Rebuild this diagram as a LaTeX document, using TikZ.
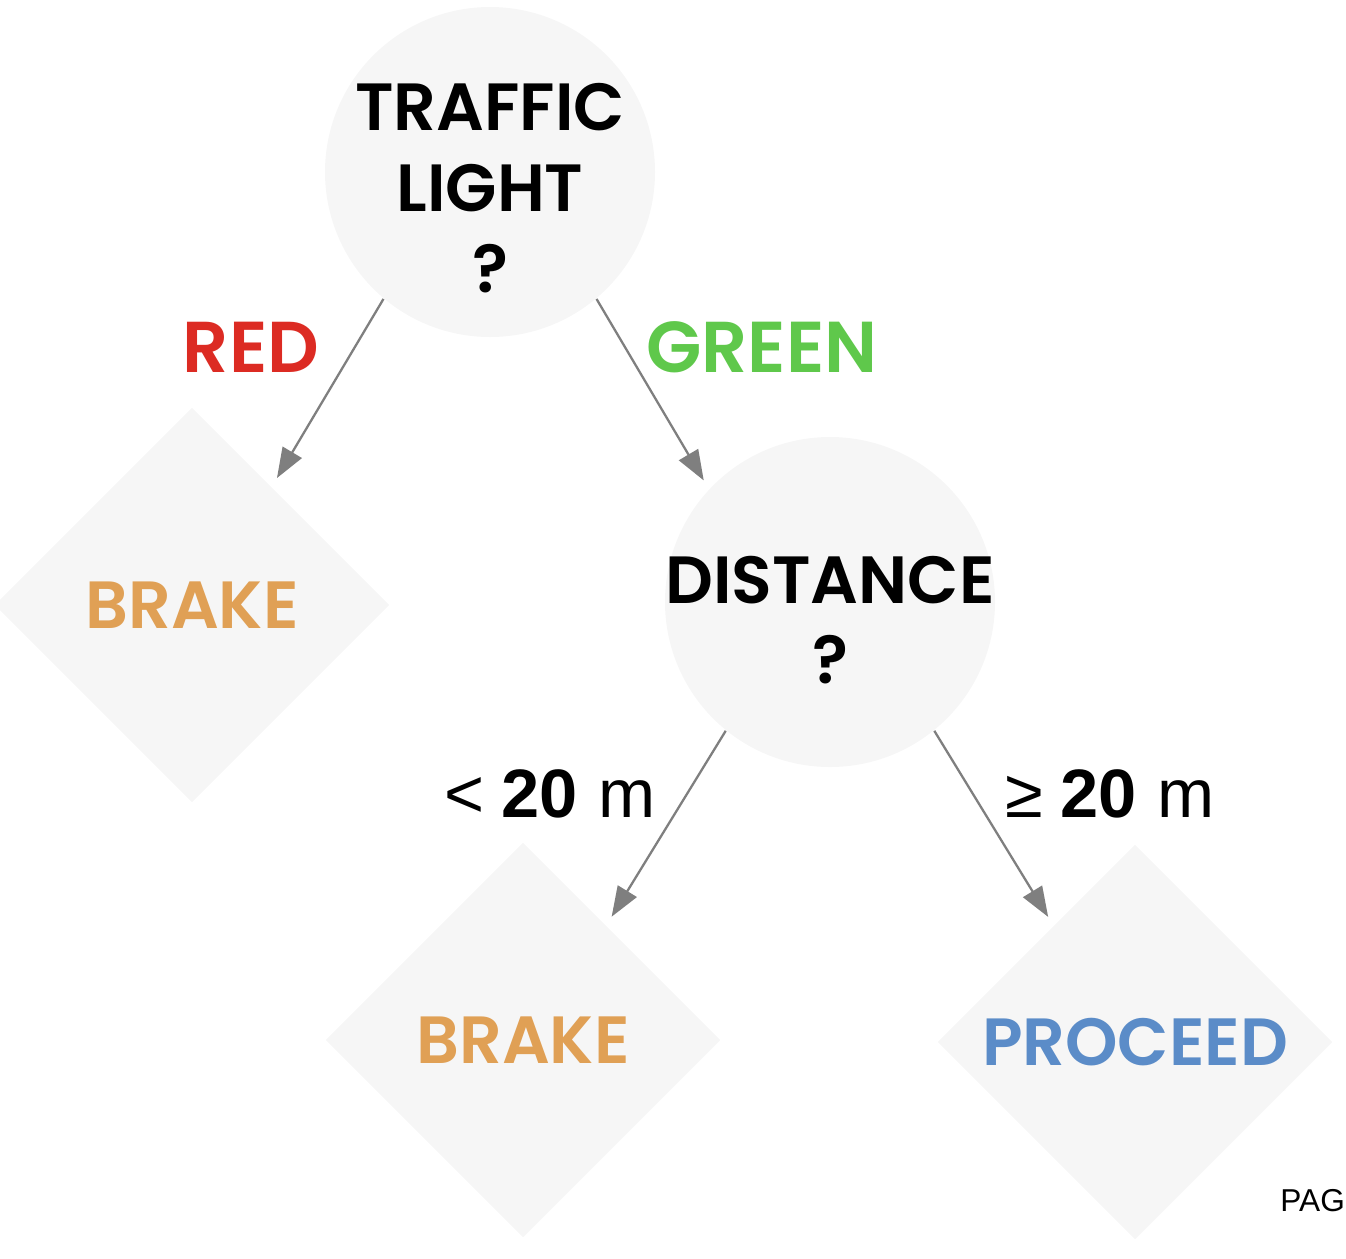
\documentclass[tikz,border=0pt]{standalone}
\usepackage{fontspec}
\setmainfont{Poppins}[BoldFont={* SemiBold}]
\newfontfamily\arialfont{Liberation Sans}
\usetikzlibrary{shapes.geometric,arrows.meta}
\definecolor{nodefill}{HTML}{F6F6F6}
\definecolor{redlbl}{HTML}{DC2B23}
\definecolor{greenlbl}{HTML}{5FC84B}
\definecolor{brakelbl}{HTML}{E0A055}
\definecolor{golbl}{HTML}{5B8CC8}
\definecolor{arrgray}{HTML}{7F7F7F}

\begin{document}
\begin{tikzpicture}[
	question/.style={circle,fill=nodefill,minimum size=3.3cm,inner sep=0pt},
	leaf/.style={diamond,fill=nodefill,minimum size=3.95cm,inner sep=0pt,font=\fontsize{19}{23}\selectfont\bfseries},
	qtext/.style={align=center,font=\fontsize{19}{23}\selectfont\bfseries},
	branch/.style={font=\fontsize{20.5}{24}\selectfont\bfseries},
	cond/.style={anchor=base,font=\arialfont\fontsize{19.5}{24}\selectfont},
	arr/.style={draw=arrgray,line width=0.65pt,-{Triangle[length=3mm,width=2.2mm]},shorten >=1mm}
]
	\useasboundingbox (0,0) rectangle (13.46,-12.58);
	\node[question] (tl) at (4.90,-1.72) {};
	\node[question] (dist) at (8.30,-6.02) {};
	\node[leaf,text=brakelbl] (brk1) at (1.92,-6.05) {BRAKE};
	\node[leaf,text=brakelbl] (brk2) at (5.23,-10.40) {BRAKE};
	\node[leaf,text=golbl] (go) at (11.35,-10.42) {PROCEED};
	\node[qtext] (tltxt) at ([yshift=-0.16cm]tl.center) {TRAFFIC\\LIGHT\\?};
	\node[qtext] (disttxt) at ([yshift=-0.18cm]dist.center) {DISTANCE\\?};
	\draw[arr] (tl.230) -- (brk1.56);
	\draw[arr] (tl.310) -- (dist.137);
	\draw[arr] (dist.231) -- (brk2.54);
	\draw[arr] (dist.309) -- (go.125);
	\node[branch,text=redlbl] (red) at (2.51,-3.475) {RED};
	\node[branch,text=greenlbl] (green) at (7.62,-3.475) {GREEN};
	\node[cond] (near) at (5.50,-8.17) {<\kern0.25em\textbf{20}\kern0.3em m};
	\node[cond] (far) at (11.10,-8.17) {≥\kern0.25em\textbf{20}\kern0.3em m};
	\node[anchor=base west,font=\arialfont\fontsize{9}{11}\selectfont] (pg) at (12.68,-12.11) {PAG};
\end{tikzpicture}
\end{document}
